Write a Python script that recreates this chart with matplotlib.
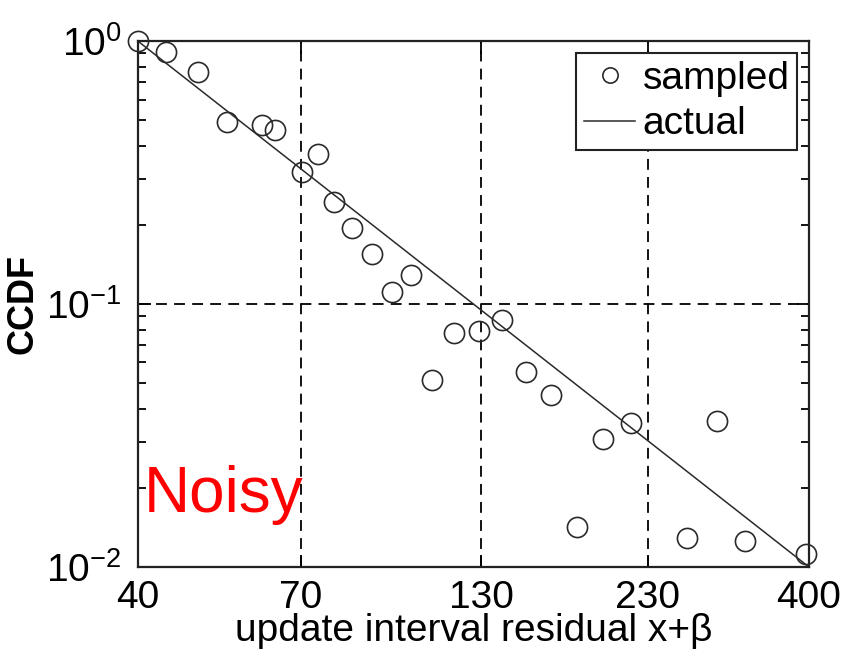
import matplotlib
matplotlib.use('Agg')
import matplotlib.pyplot as plt
from matplotlib.ticker import NullFormatter, LogLocator

plt.rcParams['font.family'] = ['Liberation Sans', 'DejaVu Sans']
plt.rcParams['mathtext.fontset'] = 'custom'
plt.rcParams['mathtext.rm'] = 'Liberation Sans'
plt.rcParams['mathtext.it'] = 'Liberation Sans'

# sampled CCDF points
sampled_x = [40, 44.1, 49.2, 54.2, 61.2, 64.1, 74.3, 70.2, 78.3, 83.4, 89.3, 102.1, 95.6,
             118.5, 128.7, 139.7, 109.6, 151.5, 165, 197.6, 217.3, 291.4, 180.7, 263, 321.2, 396]
sampled_y = [1.0, 0.908, 0.762, 0.492, 0.478, 0.460, 0.373, 0.318, 0.244, 0.1945, 0.1545, 0.1294, 0.111,
             0.0779, 0.0789, 0.0867, 0.0513, 0.0551, 0.0452, 0.0308, 0.0353, 0.0359, 0.0142, 0.0129, 0.01256, 0.01118]

# fitted line end points
actual_x = [40, 400]
actual_y = [1.0, 0.01]

x_ticks = [40, 70, 130, 230, 400]
y_ticks = [0.01, 0.1, 1]
y_labels = [r'$10^{-2}$', r'$10^{-1}$', r'$10^{0}$']

fig = plt.figure(figsize=(8.45, 6.54), dpi=100)
ax = fig.add_axes([0.1633, 0.133, 0.7941, 0.804])

ax.plot(sampled_x, sampled_y, 'o', mfc='none', mec='#2a2a2a', ms=14.5, mew=1.2, label='sampled', clip_on=False, zorder=3)
ax.plot(actual_x, actual_y, '-', color='#2a2a2a', lw=1.1, label='actual')

ax.set_xscale('log')
ax.set_yscale('log')
ax.set_xlim(40, 400)
ax.set_ylim(0.01, 1)

ax.set_xticks(x_ticks)
ax.set_xticklabels([str(t) for t in x_ticks])
ax.xaxis.set_minor_locator(plt.NullLocator())
ax.set_yticks(y_ticks)
ax.set_yticklabels(y_labels)
ax.yaxis.set_minor_locator(LogLocator(base=10, subs=range(2, 10)))
ax.yaxis.set_minor_formatter(NullFormatter())

ax.tick_params(which='both', direction='in', top=True, right=True, labelsize=28)
ax.tick_params(axis='x', pad=9)
ax.tick_params(axis='y', pad=12)
ax.tick_params(which='major', length=9, width=1.3)
ax.tick_params(which='minor', length=6, width=1.3)

ax.grid(True, which='major', color='black', linestyle=(0, (6, 4)), linewidth=1.3)
for s in ax.spines.values():
    s.set_linewidth(1.6)
    s.set_color('#222222')

ax.set_xlabel('update interval residual x+β', fontsize=28, labelpad=-2)
ax.set_ylabel('CCDF', fontsize=26, fontweight='bold', labelpad=4)

ax.text(0.008, 0.105, 'Noisy', transform=ax.transAxes, color='red', fontsize=46)

leg = ax.legend(loc='upper right', fontsize=28, handlelength=1.3, handletextpad=0.2,
                borderaxespad=0.3, borderpad=0.2, labelspacing=0.25, fancybox=False,
                framealpha=1, edgecolor='#222222')
leg.get_frame().set_linewidth(1.5)
leg.legend_handles[0].set_markersize(11)

plt.savefig('out.png', dpi=100)
